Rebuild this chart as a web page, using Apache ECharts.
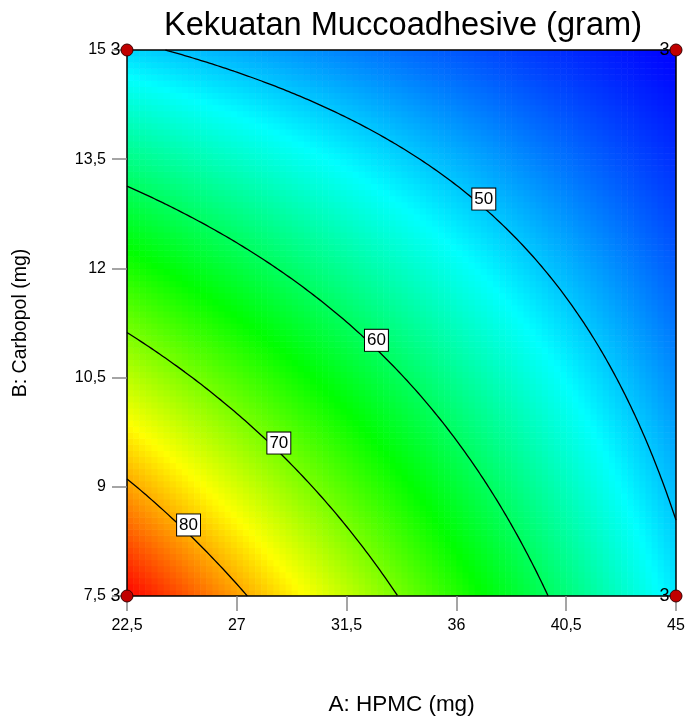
<!DOCTYPE html>
<html>
<head>
<meta charset="utf-8">
<script src="https://cdn.jsdelivr.net/npm/echarts@6/dist/echarts.min.js"></script>
<style>
  html, body { margin: 0; padding: 0; background: #ffffff; }
  #chart { width: 690px; height: 721px; }
</style>
</head>
<body>
<div id="chart"></div>
<script>
// Factor ranges and tick marks
const hpmcTicks = [22.5, 27, 31.5, 36, 40.5, 45];
const carbopolTicks = [7.5, 9, 10.5, 12, 13.5, 15];

// Design points (A: HPMC, B: Carbopol), mean response and replicate count
const designA = [22.5, 45, 22.5, 45];
const designB = [7.5, 7.5, 15, 15];
const designY = [88.0, 51.5, 50.7, 40.7];
const designReps = ['3', '3', '3', '3'];

// Contour levels and where along A each level is labelled
const contourLevels = [50, 60, 70, 80];
const contourLabelA = [37.0, 32.6, 28.6, 24.9];

const aMin = hpmcTicks[0], aMax = hpmcTicks[hpmcTicks.length - 1];
const bMin = carbopolTicks[0], bMax = carbopolTicks[carbopolTicks.length - 1];

// Two-factor-interaction model through the corner means (coded 0..1)
const f00 = designY[0], f10 = designY[1], f01 = designY[2], f11 = designY[3];
const A0 = f00, A1 = f10 - f00, B0 = f01 - f00, B1 = f11 - f10 - f01 + f00;
function response(a, b) {
  const u = (a - aMin) / (aMax - aMin), v = (b - bMin) / (bMax - bMin);
  return A0 + A1 * u + (B0 + B1 * u) * v;
}
// B value on contour `level` at a given A
function contourB(level, a) {
  const u = (a - aMin) / (aMax - aMin);
  const v = (level - A0 - A1 * u) / (B0 + B1 * u);
  return bMin + v * (bMax - bMin);
}

// Response surface cells
const N = 90;
const cells = [];
for (let i = 0; i < N; i++) {
  const a0 = aMin + (aMax - aMin) * i / N, a1 = aMin + (aMax - aMin) * (i + 1) / N;
  for (let j = 0; j < N; j++) {
    const b0 = bMin + (bMax - bMin) * j / N, b1 = bMin + (bMax - bMin) * (j + 1) / N;
    cells.push([a0, b0, a1, b1, response((a0 + a1) / 2, (b0 + b1) / 2)]);
  }
}

// Contour polylines, clipped to the design space
function contourLine(level) {
  const pts = [];
  const M = 400;
  for (let k = 0; k <= M; k++) {
    const a = aMin + (aMax - aMin) * k / M;
    const b = contourB(level, a);
    if (b >= bMin - 1e-9 && b <= bMax + 1e-9) pts.push([a, b]);
  }
  // exact crossings with the bottom / top edges
  const uBottom = (level - A0) / A1;
  const uTop = (level - A0 - B0) / (A1 + B1);
  [uBottom, uTop].forEach(function (u, idx) {
    if (u >= 0 && u <= 1) pts.push([aMin + u * (aMax - aMin), idx === 0 ? bMin : bMax]);
  });
  pts.sort(function (p, q) { return p[0] - q[0]; });
  return pts;
}

const fmt = function (v) { return String(Math.round(v * 10) / 10).replace('.', ','); };
const font = "'Liberation Sans', Arial, Helvetica, sans-serif";

const series = [];
series.push({
  type: 'custom',
  name: 'surface',
  data: cells,
  encode: { x: [0, 2], y: [1, 3] },
  clip: true,
  z: 1,
  silent: true,
  progressive: 0,
  renderItem: function (params, api) {
    const p0 = api.coord([api.value(0), api.value(1)]);
    const p1 = api.coord([api.value(2), api.value(3)]);
    return {
      type: 'rect',
      shape: { x: p0[0], y: p1[1], width: p1[0] - p0[0] + 0.6, height: p0[1] - p1[1] + 0.6 },
      style: { fill: api.visual('color') }
    };
  }
});

contourLevels.forEach(function (level) {
  series.push({
    type: 'line',
    data: contourLine(level),
    showSymbol: false,
    smooth: false,
    silent: true,
    z: 3,
    lineStyle: { color: '#000000', width: 1.3 }
  });
});

// Contour level tags
series.push({
  type: 'scatter',
  data: contourLevels.map(function (level, i) {
    return [contourLabelA[i], contourB(level, contourLabelA[i])];
  }),
  symbolSize: 0,
  silent: true,
  z: 4,
  itemStyle: { opacity: 1 },
  label: {
    show: true,
    position: 'inside',
    offset: [3, -6],
    formatter: function (p) { return String(contourLevels[p.dataIndex]); },
    fontFamily: font,
    fontSize: 17,
    color: '#000000',
    opacity: 1,
    backgroundColor: '#ffffff',
    borderColor: '#000000',
    borderWidth: 1,
    padding: [3, 2, 1, 2]
  }
});

// Design points with replicate counts
series.push({
  type: 'scatter',
  data: designA.map(function (a, i) { return [a, designB[i], designY[i]]; }),
  symbol: 'circle',
  symbolSize: 12,
  clip: false,
  silent: true,
  z: 6,
  itemStyle: { color: '#c00000', borderColor: '#3a0000', borderWidth: 1, opacity: 1 },
  label: {
    show: true,
    position: 'left',
    distance: 0,
    formatter: function (p) { return designReps[p.dataIndex]; },
    fontFamily: font,
    fontSize: 18,
    color: '#000000',
    opacity: 1
  }
});

const chart = echarts.init(document.getElementById('chart'), null, { renderer: 'canvas' });
chart.setOption({
  animation: false,
  backgroundColor: '#ffffff',
  title: {
    text: 'Kekuatan Muccoadhesive (gram)',
    left: 398,
    textAlign: 'center',
    top: 5,
    textStyle: { fontFamily: font, fontSize: 32.6, fontWeight: 'normal', color: '#000000' }
  },
  grid: { left: 127, top: 50, width: 549, height: 547, containLabel: false },
  visualMap: {
    show: false,
    type: 'continuous',
    seriesIndex: 0,
    dimension: 4,
    min: Math.min.apply(null, designY),
    max: Math.max.apply(null, designY),
    inRange: { color: ['#0000ff', '#00ffff', '#00ff00', '#ffff00', '#ff0000'] }
  },
  xAxis: [{
    type: 'value',
    min: aMin, max: aMax, interval: 4.5,
    position: 'bottom',
    z: 5,
    name: 'A: HPMC (mg)',
    nameLocation: 'middle',
    nameGap: 97,
    nameTextStyle: { fontFamily: font, fontSize: 22.5, color: '#000000' },
    axisLine: { show: true, onZero: false, lineStyle: { color: '#000000', width: 1.5 } },
    axisTick: { show: true, length: 15, lineStyle: { color: '#888888', width: 1.5 } },
    axisLabel: { margin: 22, fontFamily: font, fontSize: 16, color: '#000000', formatter: fmt },
    splitLine: { show: false }
  }, {
    type: 'value',
    min: aMin, max: aMax, interval: 4.5,
    position: 'top',
    z: 5,
    axisLine: { show: true, onZero: false, lineStyle: { color: '#000000', width: 1.5 } },
    axisTick: { show: false },
    axisLabel: { show: false },
    splitLine: { show: false }
  }],
  yAxis: [{
    type: 'value',
    min: bMin, max: bMax, interval: 1.5,
    position: 'left',
    z: 5,
    name: 'B: Carbopol (mg)',
    nameLocation: 'middle',
    nameGap: 96,
    nameTextStyle: { fontFamily: font, fontSize: 19.5, color: '#000000' },
    axisLine: { show: true, onZero: false, lineStyle: { color: '#000000', width: 1.5 } },
    axisTick: { show: true, length: 15, lineStyle: { color: '#888888', width: 1.5 } },
    axisLabel: { margin: 21, fontFamily: font, fontSize: 16, color: '#000000', formatter: fmt },
    splitLine: { show: false }
  }, {
    type: 'value',
    min: bMin, max: bMax, interval: 1.5,
    position: 'right',
    z: 5,
    axisLine: { show: true, onZero: false, lineStyle: { color: '#000000', width: 1.5 } },
    axisTick: { show: false },
    axisLabel: { show: false },
    splitLine: { show: false }
  }],
  series: series
});
</script>
</body>
</html>
